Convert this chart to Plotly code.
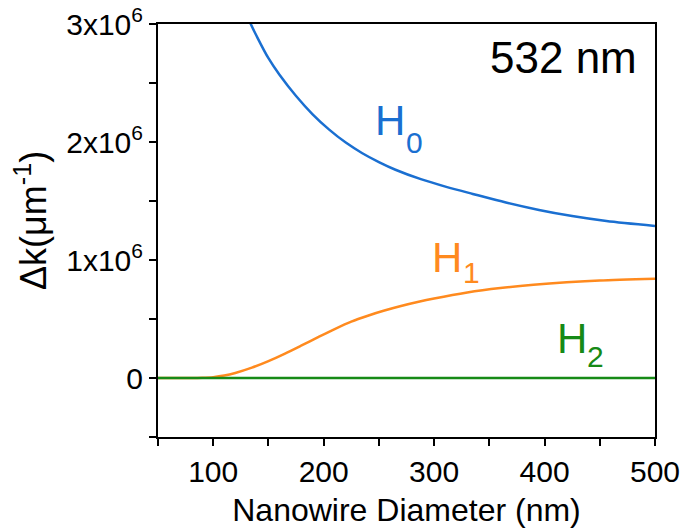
import plotly.graph_objects as go

# Data
h0_d = [125, 133, 140, 150, 160, 175, 190, 205, 220, 235, 250, 265, 288, 311, 335, 365, 395, 425, 456, 500]
h0_k = [3.20e6, 3.02e6, 2.885e6, 2.71e6, 2.57e6, 2.39e6, 2.235e6, 2.105e6, 1.995e6, 1.905e6, 1.83e6, 1.765e6,
        1.685e6, 1.62e6, 1.56e6, 1.487e6, 1.424e6, 1.372e6, 1.33e6, 1.288e6]

h1_d = [50, 80, 90, 100, 110, 120, 135, 150, 165, 180, 195, 210, 225, 240, 255, 270, 285, 300, 330, 360, 390, 420, 450, 500]
h1_k = [0, 0, 0.002e6, 0.0075e6, 0.0205e6, 0.0425e6, 0.0875e6, 0.143e6, 0.207e6, 0.276e6, 0.3465e6, 0.415e6,
        0.478e6, 0.528e6, 0.5715e6, 0.61e6, 0.6435e6, 0.6735e6, 0.7245e6, 0.762e6, 0.79e6, 0.811e6, 0.826e6, 0.841e6]

h2_d = [50, 100, 200, 300, 400, 500]
h2_k = [0, 0, 0, 0, 0, 0]

x_tickvals = [100, 200, 300, 400, 500]
x_ticktext = ["100", "200", "300", "400", "500"]
y_tickvals = [0, 1e6, 2e6, 3e6]
y_ticktext = ["0", "1x10<sup>6</sup>", "2x10<sup>6</sup>", "3x10<sup>6</sup>"]

BLUE = "#1a6fd1"
ORANGE = "#ff8a1e"
GREEN = "#168a16"
FONT = "Liberation Sans, Arial, sans-serif"

fig = go.Figure()
fig.add_trace(go.Scatter(x=h0_d, y=h0_k, mode="lines", line=dict(color=BLUE, width=2.5, shape="spline", smoothing=0.8), showlegend=False))
fig.add_trace(go.Scatter(x=h1_d, y=h1_k, mode="lines", line=dict(color=ORANGE, width=2.5, shape="spline", smoothing=0.8), showlegend=False))
fig.add_trace(go.Scatter(x=h2_d, y=h2_k, mode="lines", line=dict(color=GREEN, width=2.5), showlegend=False))

axis_common = dict(showgrid=False, zeroline=False, showline=True, linecolor="black", linewidth=2,
                   mirror=True, ticks="outside", ticklen=7, tickwidth=2, tickcolor="black", automargin=False,
                   tickfont=dict(family=FONT, size=30, color="black"))

fig.update_xaxes(range=[50, 500], tickmode="array", tickvals=x_tickvals, ticktext=x_ticktext,
                 minor=dict(ticks="outside", ticklen=7, tickwidth=2, tickcolor="black", tick0=50, dtick=50, showgrid=False),
                 title=dict(text="Nanowire Diameter (nm)", font=dict(family=FONT, size=32, color="black"), standoff=12),
                 **axis_common)
fig.update_yaxes(range=[-0.5e6, 3e6], tickmode="array", tickvals=y_tickvals, ticktext=y_ticktext,
                 minor=dict(ticks="outside", ticklen=7, tickwidth=2, tickcolor="black", tick0=-0.5e6, dtick=0.5e6, showgrid=False),
                 **axis_common)

# plot area in pixels: x 158..655, y 24..437
def px_x(p):
    return (p - 158) / (655 - 158)

def px_y(p):
    return (437 - p) / (437 - 24)

def lab(x, y, text, color, size, anchor="center"):
    return dict(x=x, y=y, xref="x", yref="y", text=text, showarrow=False, borderpad=0, borderwidth=0,
                xanchor=anchor, yanchor="middle", font=dict(family=FONT, size=size, color=color))

annotations = [
    lab(260.5, 2.1864e6, "H", BLUE, 42), lab(282.3, 2.0e6, "0", BLUE, 30),
    lab(312.1, 1.0254e6, "H", ORANGE, 42), lab(333.6, 0.894e6, "1", ORANGE, 30),
    lab(424.4, 0.339e6, "H", GREEN, 42), lab(446.1, 0.1864e6, "2", GREEN, 30),
    lab(483.7, 2.712e6, "532 nm", "black", 44, anchor="right"),
    dict(x=px_x(31), y=px_y(221), xref="paper", yref="paper", text="Δk(μm<sup>-1</sup>)", showarrow=False,
         textangle=-90, xanchor="center", yanchor="middle", font=dict(family=FONT, size=36, color="black")),
]

fig.update_layout(width=683, height=531, margin=dict(l=158, r=28, t=24, b=94),
                  plot_bgcolor="white", paper_bgcolor="white", annotations=annotations,
                  font=dict(family=FONT, color="black"))

fig.write_html("out.html")
